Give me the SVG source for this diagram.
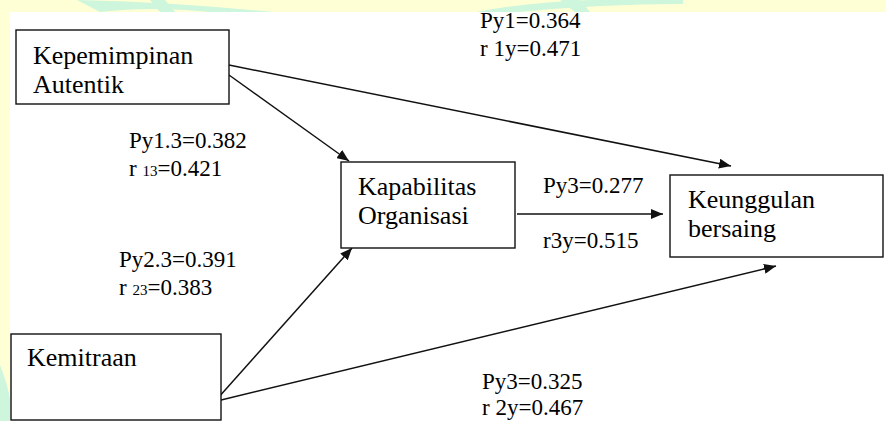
<svg xmlns="http://www.w3.org/2000/svg" width="886" height="421" viewBox="0 0 886 421" font-family="'Liberation Serif', 'Times New Roman', serif">
<defs>
<marker id="ah" viewBox="0 0 12 10" refX="12" refY="5" markerWidth="12" markerHeight="10" markerUnits="userSpaceOnUse" orient="auto">
<path d="M0,0 L12,5 L0,10 Z" fill="#111"/>
</marker>
</defs>
<g id="background">
<rect x="0" y="0" width="886" height="421" fill="#FFFFD6"/>
<path d="M77,0 Q170,2 273,12 L210,12 Q150,6 100,12 Z" fill="#CDF6DD"/>
<path d="M150,0 L160,12 L175,12 L165,0 Z" fill="#CDF6DD"/>
<path d="M476,12 Q560,-4 683,0 L683,4 Q600,4 520,12 Z" fill="#CDF6DD"/>
<path d="M560,0 L575,12 L590,12 L580,0 Z" fill="#CDF6DD"/>
<path d="M0,365 Q8,385 10,400 L10,421 L0,421 Z" fill="#CDF6DD"/>
<rect x="10" y="12" width="876" height="409" fill="#fff"/>
</g>
<g id="connectors" stroke="#111" stroke-width="1.5" fill="none" marker-end="url(#ah)">
<line x1="229" y1="65" x2="731" y2="166"/>
<line x1="229" y1="75" x2="349" y2="161"/>
<line x1="517" y1="214" x2="663" y2="214"/>
<line x1="218" y1="398" x2="352" y2="248"/>
<line x1="217" y1="401" x2="776" y2="266"/>
</g>
<g id="labels">
<text x="480" y="28" font-size="23" font-family="'Liberation Serif', serif">Py1=0.364</text>
<text x="480" y="56" font-size="23" font-family="'Liberation Serif', serif">r 1y=0.471</text>
<text x="129" y="148" font-size="23" font-family="'Liberation Serif', serif">Py1.3=0.382</text>
<text x="129" y="176" font-size="23" font-family="'Liberation Serif', serif">r <tspan font-size="15">13</tspan>=0.421</text>
<text x="543" y="193" font-size="23" font-family="'Liberation Serif', serif">Py3=0.277</text>
<text x="543" y="248" font-size="23" font-family="'Liberation Serif', serif">r3y=0.515</text>
<text x="119" y="267" font-size="23" font-family="'Liberation Serif', serif">Py2.3=0.391</text>
<text x="119" y="295" font-size="23" font-family="'Liberation Serif', serif">r <tspan font-size="15">23</tspan>=0.383</text>
<text x="482" y="389" font-size="23" font-family="'Liberation Serif', serif">Py3=0.325</text>
<text x="482" y="415" font-size="23" font-family="'Liberation Serif', serif">r 2y=0.467</text>
</g>
<g id="node-kepemimpinan">
<rect x="16" y="30" width="213" height="74" fill="#fff" stroke="#111" stroke-width="1.4"/>
<text x="33" y="64" font-size="26" font-family="'Liberation Serif', serif">Kepemimpinan</text>
<text x="33" y="93" font-size="26" font-family="'Liberation Serif', serif">Autentik</text>
</g>
<g id="node-kapabilitas">
<rect x="341" y="162" width="174" height="86" fill="#fff" stroke="#111" stroke-width="1.4"/>
<text x="358" y="195" font-size="26" font-family="'Liberation Serif', serif">Kapabilitas</text>
<text x="358" y="224" font-size="26" font-family="'Liberation Serif', serif">Organisasi</text>
</g>
<g id="node-keunggulan">
<rect x="670" y="175" width="213" height="82" fill="#fff" stroke="#111" stroke-width="1.4"/>
<text x="688" y="208" font-size="26" font-family="'Liberation Serif', serif">Keunggulan</text>
<text x="688" y="237" font-size="26" font-family="'Liberation Serif', serif">bersaing</text>
</g>
<g id="node-kemitraan">
<rect x="11" y="334" width="210" height="86" fill="#fff" stroke="#111" stroke-width="1.4"/>
<text x="27" y="366" font-size="26" font-family="'Liberation Serif', serif">Kemitraan</text>
</g>
</svg>
